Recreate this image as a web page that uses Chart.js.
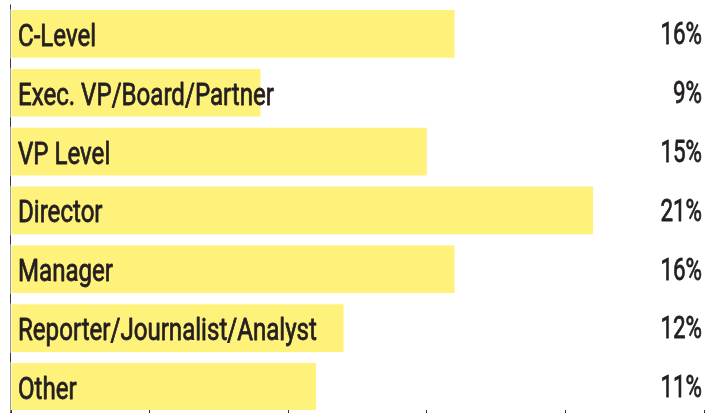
<!DOCTYPE html>
<html>
<head>
<meta charset="utf-8">
<script src="https://cdn.jsdelivr.net/npm/chart.js@4.4.1/dist/chart.umd.min.js"></script>
<style>
  html, body { margin: 0; padding: 0; background: #ffffff; }
  #wrap { width: 721px; height: 413px; position: relative; }
</style>
</head>
<body>
<div id="wrap"><canvas id="c"></canvas></div>
<script>
const categories = ['C-Level', 'Exec. VP/Board/Partner', 'VP Level', 'Director', 'Manager', 'Reporter/Journalist/Analyst', 'Other'];
const values = [16, 9, 15, 21, 16, 12, 11];
const valueLabels = ['16%', '9%', '15%', '21%', '16%', '12%', '11%'];
const axisTicks = [0, 5, 10, 15, 20, 25];

const FONT_FAMILY = "Roboto, 'Liberation Sans', sans-serif";
const TEXT_COLOR = '#231F20';
const LABEL_SIZE = 31;
const VALUE_SIZE = 32;
const LABEL_SQUEEZE = 0.777;
const VALUE_SQUEEZE = 0.70;
const CAP = 0.711;

function drawSqueezed(ctx, text, x, y, squeeze) {
  ctx.save();
  ctx.translate(x, y);
  ctx.scale(squeeze, 1);
  ctx.fillText(text, 0, 0);
  ctx.strokeText(text, 0, 0);
  ctx.restore();
}

const labelPlugin = {
  id: 'barLabels',
  afterDatasetsDraw(chart) {
    const ctx = chart.ctx;
    const meta = chart.getDatasetMeta(0);
    const area = chart.chartArea;
    ctx.save();
    // left axis line
    const ax = area.left - 0.5;
    ctx.lineWidth = 1;
    ctx.strokeStyle = '#9a9a9a';
    ctx.beginPath();
    ctx.moveTo(ax, area.top);
    ctx.lineTo(ax, chart.height);
    ctx.stroke();
    // darker segments in the gaps between bars
    ctx.strokeStyle = '#3a3a3a';
    let prev = area.top;
    meta.data.forEach((bar) => {
      const half = bar.height / 2;
      const top = bar.y - half;
      ctx.beginPath();
      ctx.moveTo(ax, prev + 1);
      ctx.lineTo(ax, top - 1);
      ctx.stroke();
      prev = bar.y + half;
    });
    ctx.beginPath();
    ctx.moveTo(ax, prev + 1);
    ctx.lineTo(ax, chart.height);
    ctx.stroke();

    ctx.fillStyle = TEXT_COLOR;
    ctx.strokeStyle = TEXT_COLOR;
    ctx.lineWidth = 0.8;
    ctx.lineJoin = 'round';
    ctx.textBaseline = 'alphabetic';
    meta.data.forEach((bar, i) => {
      ctx.font = LABEL_SIZE + "px " + FONT_FAMILY;
      ctx.textAlign = 'left';
      drawSqueezed(ctx, categories[i], area.left + 7, bar.y + 1 + LABEL_SIZE * CAP / 2, LABEL_SQUEEZE);
      ctx.font = VALUE_SIZE + "px " + FONT_FAMILY;
      ctx.textAlign = 'right';
      drawSqueezed(ctx, valueLabels[i], area.right - 2, bar.y - 1 + VALUE_SIZE * CAP / 2, VALUE_SQUEEZE);
    });
    ctx.restore();
  }
};

new Chart(document.getElementById('c'), {
  type: 'bar',
  data: {
    datasets: [{
      data: values.map((v, i) => ({ x: v, y: i })),
      backgroundColor: '#FFF27A',
      borderWidth: 0,
      barPercentage: 1,
      categoryPercentage: 0.81
    }]
  },
  options: {
    indexAxis: 'y',
    responsive: true,
    maintainAspectRatio: false,
    animation: false,
    devicePixelRatio: 1,
    layout: { padding: { left: 11, right: 17, top: 4, bottom: 0 } },
    plugins: { legend: { display: false }, tooltip: { enabled: false } },
    scales: {
      x: {
        type: 'linear',
        position: 'bottom',
        min: axisTicks[0],
        max: axisTicks[axisTicks.length - 1],
        afterBuildTicks: (s) => { s.ticks = axisTicks.map(v => ({ value: v })); },
        ticks: { display: false },
        grid: { drawOnChartArea: false, drawTicks: true, tickLength: 3, color: '#333333', lineWidth: 1 },
        border: { display: false }
      },
      y: {
        type: 'linear',
        display: false,
        reverse: true,
        offset: false,
        grid: { offset: false },
        min: -0.509,
        max: 6.392,
        afterBuildTicks: (s) => { s.ticks = categories.map((c, i) => ({ value: i })); }
      }
    }
  },
  plugins: [labelPlugin]
});
</script>
</body>
</html>
